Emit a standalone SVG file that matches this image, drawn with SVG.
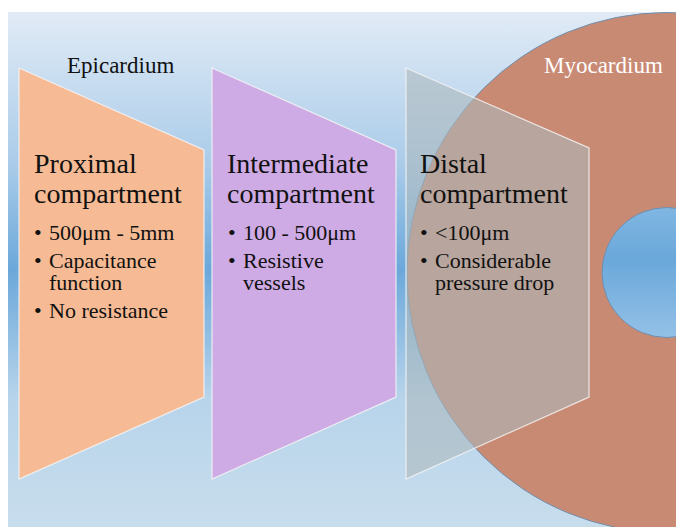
<svg xmlns="http://www.w3.org/2000/svg" width="676" height="527" viewBox="0 0 676 527">
  <defs>
    <linearGradient id="bg" x1="0" y1="0" x2="0" y2="1">
      <stop offset="0" stop-color="#e1ebf6"/>
      <stop offset="0.3" stop-color="#a9cbe9"/>
      <stop offset="0.5" stop-color="#6ba8da"/>
      <stop offset="0.75" stop-color="#b7d4eb"/>
      <stop offset="1" stop-color="#c8ddec"/>
    </linearGradient>
    <linearGradient id="lumen" x1="0" y1="0" x2="0" y2="1">
      <stop offset="0" stop-color="#80b6e2"/>
      <stop offset="0.4" stop-color="#6aa8da"/>
      <stop offset="1" stop-color="#93c1e7"/>
    </linearGradient>
  </defs>
  <style>
    .panel { stroke: #f4f4f4; stroke-width: 1.2; stroke-opacity: 0.85; }
    .title { font-family: "Liberation Serif", "Times New Roman", serif; font-size: 28px; fill: #111; }
    .item { font-family: "Liberation Serif", "Times New Roman", serif; font-size: 22px; fill: #111; }
    .label { font-family: "Liberation Serif", "Times New Roman", serif; font-size: 23px; }
  </style>

  <rect id="background" x="8" y="12" width="668" height="515" fill="url(#bg)"/>

  <g id="myocardium">
    <circle cx="667" cy="272.5" r="260" fill="#c98a74" stroke="#6f8fae" stroke-width="1"/>
    <circle cx="667" cy="272.5" r="65" fill="url(#lumen)" stroke="#6f8fae" stroke-width="1"/>
    <text class="label" x="544" y="73" fill="#ffffff">Myocardium</text>
  </g>

  <g id="epicardium">
    <text class="label" x="67" y="73" fill="#111">Epicardium</text>
  </g>

  <g id="connectors"></g>

  <g id="proximal">
    <polygon class="panel" points="19,68 204,150 204,397 19,479" fill="#f6bb94"/>
    <text class="title" x="34" y="173">Proximal<tspan x="34" dy="30">compartment</tspan></text>
    <text class="item" x="34" y="240">•</text>
    <text class="item" x="49" y="240">500μm - 5mm</text>
    <text class="item" x="34" y="268">•</text>
    <text class="item" x="49" y="268">Capacitance<tspan x="49" dy="22">function</tspan></text>
    <text class="item" x="34" y="318">•</text>
    <text class="item" x="49" y="318">No resistance</text>
  </g>

  <g id="intermediate">
    <polygon class="panel" points="212,68 396,150 396,397 212,479" fill="#cfabe5"/>
    <text class="title" x="227" y="173">Intermediate<tspan x="227" dy="30">compartment</tspan></text>
    <text class="item" x="228" y="240">•</text>
    <text class="item" x="243" y="240">100 - 500μm</text>
    <text class="item" x="228" y="268">•</text>
    <text class="item" x="243" y="268">Resistive<tspan x="243" dy="22">vessels</tspan></text>
  </g>

  <g id="distal">
    <polygon class="panel" points="406,68 589,148 589,397 406,479" fill="#adb8bb" fill-opacity="0.58"/>
    <text class="title" x="420" y="173">Distal<tspan x="420" dy="30">compartment</tspan></text>
    <text class="item" x="420" y="240">•</text>
    <text class="item" x="435" y="240">&lt;100μm</text>
    <text class="item" x="420" y="268">•</text>
    <text class="item" x="435" y="268">Considerable<tspan x="435" dy="22">pressure drop</tspan></text>
  </g>
</svg>
